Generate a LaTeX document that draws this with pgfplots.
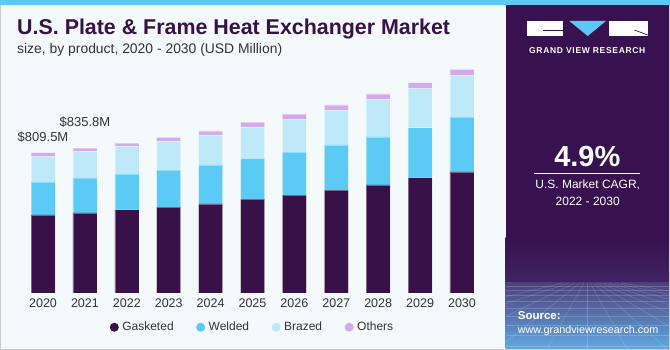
\documentclass[border=0pt]{standalone}
\usepackage{fontspec}
\setmainfont{Liberation Sans}
\newfontfamily\gvrfont[LetterSpace=8]{Liberation Sans}
\usepackage{pgfplots}
\usepackage{pgfplotstable}
\pgfplotsset{compat=1.18}
\definecolor{gask}{HTML}{371148}
\definecolor{weld}{HTML}{5BCBF5}
\definecolor{braz}{HTML}{BDE9F9}
\definecolor{oth}{HTML}{D5A9EE}
\definecolor{panel}{HTML}{381250}
\definecolor{bg}{HTML}{F4F9FC}
\definecolor{txt}{HTML}{333333}
\definecolor{stripe}{HTML}{5BC8F5}
\pgfplotstableread{
x G W B O
0 450 190 146 23.5
1 462 202 152 19.8
2 481 205 160 18
3 496 213 166 23
4 514 225 173 23
5 542 234 179 30
6 565 248 190 29
7 594 260 198 33
8 623 277 217 31
9 665 288 229 31
10 698 317 242 33
}\datatable
\begin{document}
\begin{tikzpicture}
\begin{scope}[x=1pt,y=1pt]
% background
\fill[bg] (0,0) rectangle (670,350);
\draw[gray!40, line width=1pt] (0.5,0.5) rectangle (669.5,349.5);
\fill[stripe] (0,345) rectangle (670,350);
% right panel
\fill[panel] (505.5,1) rectangle (668.5,345);
\shade[top color=panel, bottom color={rgb,255:red,64;green,36;blue,100}] (505.5,67) rectangle (668.5,112);
\shade[top color={rgb,255:red,76;green,64;blue,124}, bottom color={rgb,255:red,96;green,170;blue,226}] (505.5,1) rectangle (668.5,67);
\begin{scope}
\clip (505.5,1) rectangle (668.5,67);
\foreach \yy in {64,60,55,49,42,34,25,15,4} \draw[white, opacity=0.18, line width=0.5pt] (505.5,\yy) -- (668.5,\yy);
\foreach \xx in {-300,-220,-150,-90,-40,0,40,80,120,165,215,270,340,430} \draw[white, opacity=0.18, line width=0.5pt] (587+0.08*\xx,67) -- (587+\xx,1);
\end{scope}
% logo
\fill[white] (527.3,314) rectangle (563.3,329);
\fill[stripe] (569.3,329) -- (606,329) -- (587.7,314) -- cycle;
\fill[white] (609.3,314) rectangle (647.7,329);
\draw[panel, line width=0.7pt] (543.3,319.3) -- (562.7,319.3);
\draw[panel, line width=0.7pt] (634.3,320) -- (647.7,315);
\node[text=white, font=\gvrfont\bfseries\fontsize{8.5}{10}\selectfont] at (587.3,299) {GRAND VIEW RESEARCH};
\node[text=white, font=\bfseries\fontsize{29}{32}\selectfont] at (587.3,193.3) {4.9\%};
\draw[white, line width=0.8pt] (534,176.7) -- (640.3,176.7);
\node[text=white, font=\fontsize{12}{14}\selectfont] at (587.7,165) {U.S. Market CAGR,};
\node[text=white, font=\fontsize{12}{14}\selectfont] at (587.7,149) {2022 - 2030};
\node[text=white, anchor=base west, inner sep=0pt, font=\bfseries\fontsize{11.5}{13}\selectfont] at (517.7,30) {Source:};
\node[text=white, anchor=base west, inner sep=0pt, font=\fontsize{10.8}{13}\selectfont] at (517.7,16) {www.grandviewresearch.com};
% titles
\node[text=gask, anchor=base west, inner sep=0pt, font=\bfseries\fontsize{21.4}{24}\selectfont] at (17,315) {U.S. Plate \& Frame Heat Exchanger Market};
\node[text=txt, anchor=base west, inner sep=0pt, font=\fontsize{13.9}{16}\selectfont] at (17,296.7) {size, by product, 2020 - 2030 (USD Million)};
\end{scope}
\begin{axis}[
  at={(17.9pt,57pt)}, anchor=south west,
  scale only axis, width=469.2pt, height=233pt,
  xmin=-0.6, xmax=10.6, ymin=0, ymax=1344,
  ybar stacked, bar width=24pt,
  axis line style={draw=none},
  ytick=\empty,
  xtick={0,...,10},
  xticklabels={2020,2021,2022,2023,2024,2025,2026,2027,2028,2029,2030},
  major tick length=0pt,
  xticklabel style={font=\fontsize{12.5}{14}\selectfont, text=txt, yshift=-2pt},
  clip=false,
  legend columns=4,
  legend image code/.code={\fill[#1,draw=none] (0pt,0pt) circle (4.5pt);},
  legend style={draw=none, fill=none, at={(axis description cs:0.5,-0.147)}, anchor=center,
    font=\fontsize{12}{14}\selectfont, text=txt,
    /tikz/every odd column/.append style={column sep=1.5pt},
    /tikz/every even column/.append style={column sep=20.5pt}},
]
\addplot[fill=gask, draw=white, draw opacity=0.35, line width=0.6pt] table[x=x,y=G]{\datatable};
\addplot[fill=weld, draw=white, draw opacity=0.35, line width=0.6pt] table[x=x,y=W]{\datatable};
\addplot[fill=braz, draw=white, draw opacity=0.35, line width=0.6pt] table[x=x,y=B]{\datatable};
\addplot[fill=oth, draw=white, draw opacity=0.35, line width=0.6pt] table[x=x,y=O]{\datatable};
\legend{Gasketed,Welded,Brazed,Others}
\node[text=txt, font=\fontsize{13}{15}\selectfont] at (axis cs:0,898) {\$809.5M};
\node[text=txt, font=\fontsize{13}{15}\selectfont] at (axis cs:1,983) {\$835.8M};
\end{axis}
\end{tikzpicture}
\end{document}
